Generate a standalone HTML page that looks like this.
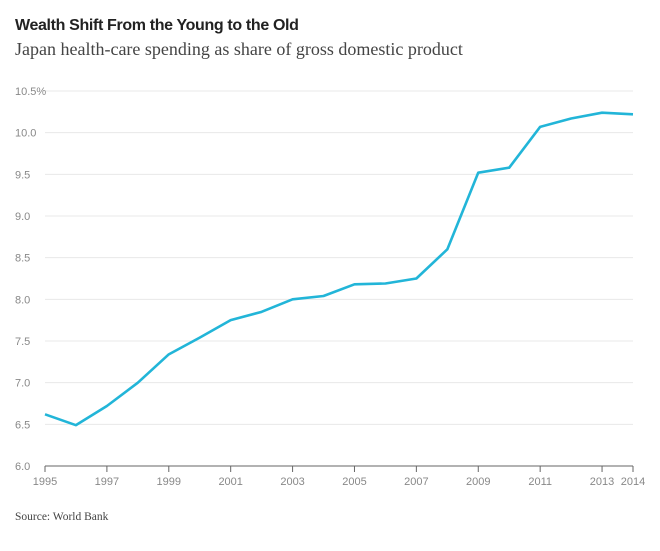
<!DOCTYPE html>
<html><head><meta charset="utf-8"><style>
body{margin:0;background:#fff;width:660px;height:546px;overflow:hidden}
svg text{font-family:"Liberation Sans",sans-serif}
</style></head><body>
<svg width="660" height="546">
<text x="15" y="30" font-size="16" font-weight="bold" fill="#222" letter-spacing="-0.35">Wealth Shift From the Young to the Old</text>
<text x="15" y="55" font-size="18" fill="#444" style="font-family:'Liberation Serif',serif">Japan health-care spending as share of gross domestic product</text>
<g id="grid"></g>
<g id="ylabels"></g>
<g id="xaxis"></g>
<path id="line" fill="none" stroke="#22b5d8" stroke-width="2.6" stroke-linejoin="round"/>
<text x="15" y="520" font-size="11.5" fill="#444" style="font-family:'Liberation Serif',serif">Source: World Bank</text>
</svg>
<script>
const years=[1995,1996,1997,1998,1999,2000,2001,2002,2003,2004,2005,2006,2007,2008,2009,2010,2011,2012,2013,2014];
const values=[6.62,6.49,6.72,7.0,7.34,7.54,7.75,7.85,8.0,8.04,8.18,8.19,8.25,8.6,9.52,9.58,10.07,10.17,10.24,10.22];
const yTicks=[6.0,6.5,7.0,7.5,8.0,8.5,9.0,9.5,10.0,10.5];
const yTickLabels=["6.0","6.5","7.0","7.5","8.0","8.5","9.0","9.5","10.0","10.5%"];
const xTicks=[1995,1997,1999,2001,2003,2005,2007,2009,2011,2013,2014];
const NS="http://www.w3.org/2000/svg";
const x=v=>45+(v-1995)*(633-45)/19;
const y=v=>466-(v-6)*(466-91)/4.5;
function mk(t,a,p){const e=document.createElementNS(NS,t);for(const k in a)e.setAttribute(k,a[k]);p.appendChild(e);return e;}
const grid=document.getElementById('grid'),yl=document.getElementById('ylabels'),xa=document.getElementById('xaxis');
yTicks.forEach((v,i)=>{
  if(i>0){const l=mk('line',{x1:45,x2:633,y1:y(v),y2:y(v),stroke:'#e8e8e8','stroke-width':1},grid);
  
  }
  const t=mk('text',{x:15,y:y(v)+4,'font-size':11,fill:'#888'},yl);t.textContent=yTickLabels[i];
  
  
});
mk('line',{x1:45,x2:633,y1:466,y2:466,stroke:'#666','stroke-width':1},xa);
xTicks.forEach(v=>{
  mk('line',{x1:x(v),x2:x(v),y1:466,y2:472,stroke:'#666','stroke-width':1},xa);
  const t=mk('text',{x:x(v),y:485,'font-size':11,fill:'#888','text-anchor':'middle'},xa);t.textContent=v;
  
  
});
document.getElementById('line').setAttribute('d',years.map((yr,i)=>(i?'L':'M')+x(yr)+','+y(values[i])).join(''));
</script>
</body></html>
